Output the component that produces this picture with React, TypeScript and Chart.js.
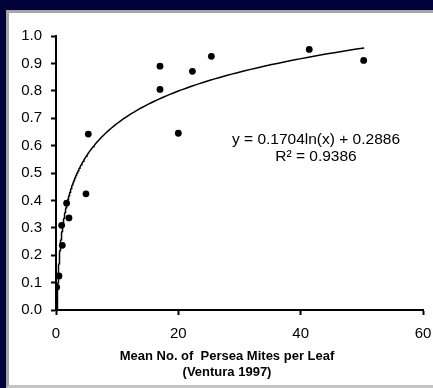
import React, { useEffect, useRef } from "react";
import { Chart, registerables } from "chart.js";

Chart.register(...registerables);

// Observed data (Mean No. of Persea Mites per Leaf vs. proportion)
const miteX: number[] = [0.11, 0.49, 0.92, 1.03, 1.74, 2.12, 4.9, 5.28, 17.0, 17.0, 20.0, 22.3, 25.4, 41.4, 50.3];
const miteY: number[] = [0.083, 0.124, 0.309, 0.236, 0.39, 0.336, 0.424, 0.642, 0.89, 0.805, 0.645, 0.871, 0.926, 0.951, 0.911];

// Logarithmic trendline shown in the chart: y = 0.1704 ln(x) + 0.2886
const trendSlope = 0.1704;
const trendIntercept = 0.2886;
const trendStartX = 0.11;
const trendEndX = 50.4;

const xTicks: number[] = [0, 20, 40, 60];
const yTicks: number[] = [0, 0.1, 0.2, 0.3, 0.4, 0.5, 0.6, 0.7, 0.8, 0.9, 1.0];

const equationLines: string[] = ["y = 0.1704ln(x) + 0.2886", "R² = 0.9386"];
const xTitleLines: string[] = ["Mean No. of  Persea Mites per Leaf", "(Ventura 1997)"];

const FONT = '"Liberation Sans", Arial, sans-serif';

export default function App() {
  const ref = useRef<HTMLCanvasElement | null>(null);

  useEffect(() => {
    const canvas = ref.current;
    if (!canvas) return;

    const trend: { x: number; y: number }[] = [];
    const n = 240;
    const l0 = Math.log(trendStartX);
    const l1 = Math.log(trendEndX);
    for (let i = 0; i <= n; i++) {
      const x = Math.exp(l0 + ((l1 - l0) * i) / n);
      trend.push({ x, y: trendSlope * Math.log(x) + trendIntercept });
    }

    const points = miteX.map((x, i) => ({ x, y: miteY[i] }));

    const textPlugin = {
      id: "texts",
      afterDraw(chart: any) {
        const ctx = chart.ctx as CanvasRenderingContext2D;
        ctx.save();
        ctx.fillStyle = "#000";
        ctx.textAlign = "center";
        ctx.textBaseline = "middle";
        ctx.font = `15.5px ${FONT}`;
        ctx.fillText(equationLines[0], 316, 140);
        ctx.fillText(equationLines[1], 316, 157);
        ctx.font = `bold 13px ${FONT}`;
        ctx.fillText(xTitleLines[0], 227, 356);
        ctx.fillText(xTitleLines[1], 227, 372);
        ctx.restore();
      },
    };

    const chart = new Chart(canvas, {
      type: "scatter",
      data: {
        datasets: [
          {
            type: "line",
            data: trend,
            borderColor: "#000",
            borderWidth: 1.5,
            pointRadius: 0,
            fill: false,
            tension: 0,
          } as any,
          {
            type: "scatter",
            data: points,
            backgroundColor: "#000",
            borderColor: "#000",
            borderWidth: 0,
            pointRadius: 3.4,
          },
        ],
      },
      options: {
        animation: false,
        responsive: false,
        devicePixelRatio: 1,
        layout: { padding: { left: 0, top: 36, right: 10, bottom: 0 } },
        plugins: { legend: { display: false }, tooltip: { enabled: false } },
        scales: {
          x: {
            type: "linear",
            min: 0,
            max: 60,
            afterBuildTicks: (s: any) => {
              s.ticks = xTicks.map((v) => ({ value: v }));
            },
            afterFit: (s: any) => {
              s.height = 78;
              s.paddingLeft = 0;
              s.paddingRight = 0;
            },
            grid: { drawOnChartArea: false, drawTicks: true, tickLength: 5, tickColor: "#000", tickWidth: 2 },
            border: { display: true, color: "#000", width: 2 },
            ticks: {
              color: "#000",
              font: { family: FONT, size: 15 },
              padding: 10,
              maxRotation: 0,
              callback: (v: any) => String(v),
            },
          },
          y: {
            type: "linear",
            min: 0,
            max: 1,
            afterBuildTicks: (s: any) => {
              s.ticks = yTicks.map((v) => ({ value: v }));
            },
            afterFit: (s: any) => {
              s.width = 56;
              s.paddingTop = 0;
              s.paddingBottom = 0;
            },
            grid: { drawOnChartArea: false, drawTicks: true, tickLength: 5, tickColor: "#000", tickWidth: 2 },
            border: { display: true, color: "#000", width: 2 },
            ticks: {
              color: "#000",
              font: { family: FONT, size: 15 },
              padding: 9,
              callback: (v: any) => Number(v).toFixed(1),
            },
          },
        },
      },
      plugins: [textPlugin],
    });

    return () => chart.destroy();
  }, []);

  return (
    <div style={{ position: "fixed", left: 0, top: 0, width: 433, height: 388, background: "#02023a", overflow: "hidden" }}>
      <div
        style={{
          position: "absolute",
          left: 6,
          top: 10,
          width: 440,
          height: 378,
          boxSizing: "border-box",
          background: "#fff",
          borderTop: "3px solid #a6a6a6",
          borderLeft: "3px solid #a6a6a6",
          borderBottom: "3px solid #c4c4c4",
        }}
      />
      <canvas ref={ref} width={433} height={388} style={{ position: "absolute", left: 0, top: 0, width: 433, height: 388 }} />
    </div>
  );
}
